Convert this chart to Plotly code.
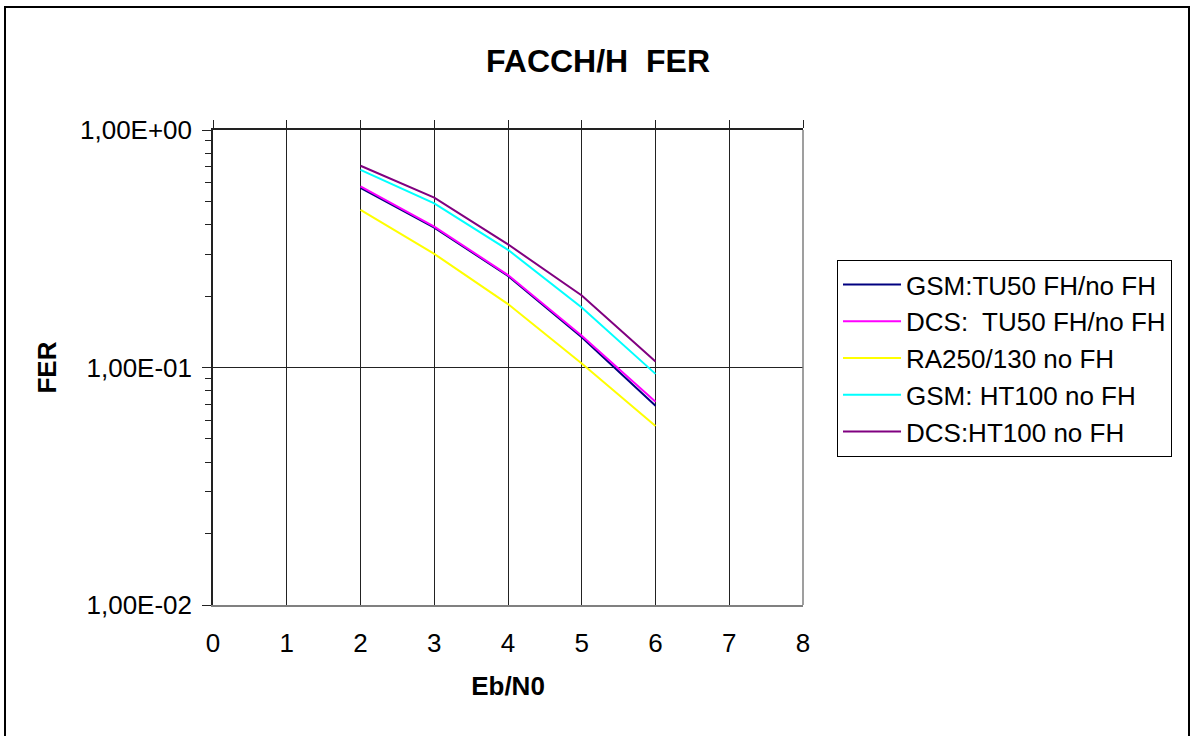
import plotly.graph_objects as go

eb_n0 = [2, 3, 4, 5, 6]
gsm_tu50 = [0.570, 0.388, 0.243, 0.134, 0.069]
dcs_tu50 = [0.579, 0.392, 0.245, 0.136, 0.0718]
ra250 = [0.461, 0.301, 0.185, 0.104, 0.0567]
gsm_ht100 = [0.679, 0.491, 0.313, 0.179, 0.094]
dcs_ht100 = [0.707, 0.519, 0.330, 0.201, 0.106]

series_names = ["GSM:TU50 FH/no FH", "DCS:\u00a0 TU50 FH/no FH", "RA250/130 no FH",
                "GSM: HT100 no FH", "DCS:HT100 no FH"]
series_values = [gsm_tu50, dcs_tu50, ra250, gsm_ht100, dcs_ht100]
series_colors = ["#000080", "#FF00FF", "#FFFF00", "#00FFFF", "#800080"]

y_tickvals = [1, 0.1, 0.01]
y_ticktext = ["1,00E+00", "1,00E-01", "1,00E-02"]
x_tickvals = [0, 1, 2, 3, 4, 5, 6, 7, 8]

FONT = "Liberation Sans, Arial, sans-serif"
FS = 26

fig = go.Figure()
for name, vals, col in zip(series_names, series_values, series_colors):
    fig.add_trace(go.Scatter(x=eb_n0, y=vals, mode="lines", name=name,
                             line=dict(color=col, width=2)))
# invisible trace for top axis (ticks only)
fig.add_trace(go.Scatter(x=[0, 8], y=[0.01, 1], xaxis="x2", mode="none",
                         showlegend=False, hoverinfo="skip"))

L, R, T, B = 213, 803, 130, 605
W, H = 1192, 736
pw, ph = R - L, B - T

fig.update_layout(
    width=W, height=H,
    margin=dict(l=L, r=W - R, t=T, b=H - B, pad=0),
    paper_bgcolor="white", plot_bgcolor="white",
    font=dict(family=FONT, size=FS, color="black"),
    title=dict(text="<b>FACCH/H\u00a0 FER</b>", x=(598 - L) / pw, xref="paper",
               xanchor="center", y=1 - 61 / H, yanchor="middle",
               font=dict(size=32, family=FONT, color="black")),
    showlegend=True,
    legend=dict(x=(837 - L) / pw, y=(B - 260) / ph, xanchor="left", yanchor="top",
                bordercolor="black", borderwidth=1, bgcolor="white",
                font=dict(size=FS, family=FONT, color="black"),
                tracegroupgap=0, itemwidth=58),
    xaxis=dict(range=[0, 8], tickvals=x_tickvals, showgrid=True, gridcolor="#222222",
               gridwidth=1, zeroline=False, showline=True, linecolor="#808080",
               linewidth=1.5, ticks="", ticklabelstandoff=14,
               tickfont=dict(size=FS, family=FONT),
               title=dict(text="<b>Eb/N0</b>", standoff=20,
                          font=dict(size=FS, family=FONT))),
    xaxis2=dict(range=[0, 8], overlaying="x", side="top", tickvals=x_tickvals,
                ticks="outside", ticklen=8, tickcolor="#222222", showticklabels=False,
                showgrid=False, zeroline=False, showline=True, linecolor="#222222",
                linewidth=1.5),
    yaxis=dict(type="log", range=[-2, 0], tickvals=y_tickvals, ticktext=y_ticktext,
               showgrid=True, gridcolor="#222222", gridwidth=1, zeroline=False,
               showline=True, linecolor="#222222", linewidth=1.5,
               ticks="outside", ticklen=9, tickcolor="#222222", ticklabelstandoff=5,
               tickfont=dict(size=FS, family=FONT),
               minor=dict(ticks="outside", ticklen=6, tickcolor="#222222",
                          dtick="D1", showgrid=False),
               title=dict(text="<b>FER</b>", standoff=16,
                          font=dict(size=FS, family=FONT))),
    shapes=[
        dict(type="rect", xref="paper", yref="paper", x0=1, x1=1, y0=0, y1=1,
             line=dict(color="#808080", width=1.5)),
        dict(type="rect", xref="paper", yref="paper",
             x0=(5 - L) / pw, x1=(1189 - L) / pw, y0=(B - 745) / ph, y1=(B - 7) / ph,
             line=dict(color="black", width=2), layer="below"),
    ],
)

fig.write_html("out.html", config={"displayModeBar": False},
               post_script="document.body.style.margin='0';")
